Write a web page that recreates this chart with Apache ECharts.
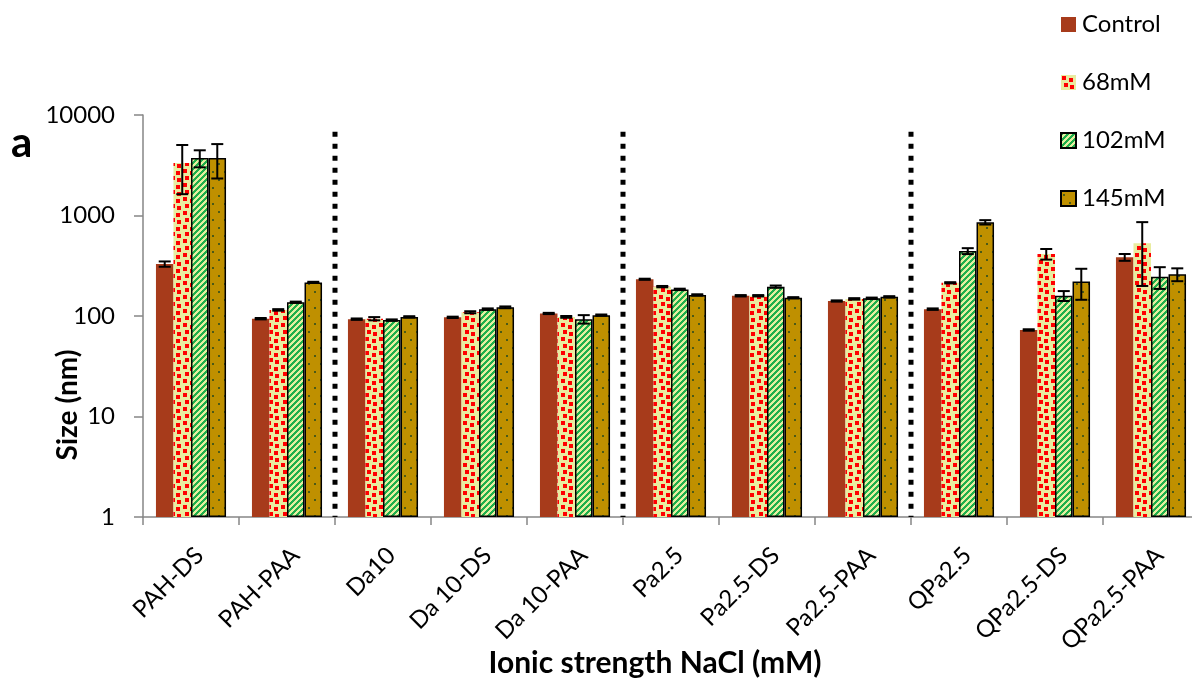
<!DOCTYPE html>
<html><head><meta charset="utf-8">
<script src="https://cdn.jsdelivr.net/npm/echarts@6/dist/echarts.min.js"></script>
<style>html,body{margin:0;padding:0;background:#fff}#c{width:1192px;height:686px}</style>
</head><body><div id="c"></div>
<script>
const categories = ['PAH-DS','PAH-PAA','Da10','Da 10-DS','Da 10-PAA','Pa2.5','Pa2.5-DS','Pa2.5-PAA','QPa2.5','QPa2.5-DS','QPa2.5-PAA'];
const seriesNames = ['Control','68mM','102mM','145mM'];
const control     = [329, 94, 93, 97, 106, 232, 159, 141, 117, 72.6, 384];
const controlErr  = [20, 1.5, 1.5, 1.5, 1.5, 3, 2.5, 2, 2, 1.2, 30];
const mM68        = [3330, 115, 94, 109, 98, 196, 159, 148, 214, 414, 529];
const mM68Err     = [1700, 2, 3.5, 2.5, 2, 3, 2.5, 2.5, 3, 50, 330];
const mM102       = [3735, 137, 91, 117, 93, 184, 196, 150, 443, 159, 246];
const mM102Err    = [720, 2, 1.5, 2, 9, 3, 5, 2.5, 30, 18, 60];
const mM145       = [3735, 216, 98, 122, 102, 162, 152, 155, 856, 220, 260];
const mM145Err    = [1400, 3, 1.5, 2.5, 1.5, 2.5, 2, 2.5, 43, 75, 38];
const yTicks = [1, 10, 100, 1000, 10000];
const separatorsAfter = [1, 4, 7];
const separatorTop = 6800;

const FONT = 'Lato';
const CAT_GAP = 0.27;

function makePattern(w, h, draw) {
  const c = document.createElement('canvas');
  c.width = w; c.height = h;
  const g = c.getContext('2d');
  draw(g, w, h);
  return c;
}
const pat68 = makePattern(14, 14, g => {
  g.fillStyle = '#E9ECA0'; g.fillRect(0, 0, 14, 14);
  g.fillStyle = '#FF0000';
  [[1,1],[8,3],[3,8],[9,10]].forEach(([x,y]) => g.fillRect(x, y, 4, 4));
});
const pat102 = makePattern(6, 6, g => {
  for (let x = 0; x < 6; x++) for (let y = 0; y < 6; y++) {
    g.fillStyle = ((x + y) % 6) < 3 ? '#1FAF4B' : '#E4EFA0';
    g.fillRect(x, y, 1, 1);
  }
});
const pat145 = makePattern(12, 16, g => {
  g.fillStyle = '#BF9000'; g.fillRect(0, 0, 12, 16);
  g.fillStyle = '#4A5A18';
  g.fillRect(2, 3, 2, 2); g.fillRect(8, 11, 2, 2);
});

const styles = [
  { color: '#A73B1B' },
  { color: { image: pat68, repeat: 'repeat' } },
  { color: { image: pat102, repeat: 'repeat' }, borderColor: '#000', borderWidth: 1.5 },
  { color: { image: pat145, repeat: 'repeat' }, borderColor: '#000', borderWidth: 1.5 }
];
const values = [control, mM68, mM102, mM145];
const errs = [controlErr, mM68Err, mM102Err, mM145Err];

const series = [];
values.forEach((vals, k) => {
  series.push({
    type: 'bar', name: seriesNames[k], data: vals,
    barGap: '0%', barCategoryGap: (CAT_GAP * 100) + '%',
    itemStyle: styles[k], z: 2
  });
});
values.forEach((vals, k) => {
  series.push({
    type: 'custom', name: seriesNames[k] + ' error', silent: true, z: 5,
    data: vals.map((v, i) => [i, v - errs[k][i], v + errs[k][i]]),
    encode: { x: 0, y: [1, 2] },
    renderItem: (params, api) => {
      const i = api.value(0);
      const lo = api.coord([i, api.value(1)]);
      const hi = api.coord([i, api.value(2)]);
      const band = api.size([1, 0])[0];
      const bw = band * (1 - CAT_GAP) / 4;
      const x = lo[0] + (k - 1.5) * bw;
      const cap = 6;
      const st = { stroke: '#000', lineWidth: 2 };
      return { type: 'group', children: [
        { type: 'line', shape: { x1: x, y1: lo[1], x2: x, y2: hi[1] }, style: st },
        { type: 'line', shape: { x1: x - cap, y1: lo[1], x2: x + cap, y2: lo[1] }, style: st },
        { type: 'line', shape: { x1: x - cap, y1: hi[1], x2: x + cap, y2: hi[1] }, style: st }
      ]};
    }
  });
});
series.push({
  type: 'custom', name: 'separators', silent: true, z: 6,
  data: separatorsAfter.map(i => [i, 1, separatorTop]),
  encode: { x: 0, y: [1, 2] },
  renderItem: (params, api) => {
    const b = api.coord([api.value(0), api.value(1)]);
    const t = api.coord([api.value(0), api.value(2)]);
    const band = api.size([1, 0])[0];
    const x = Math.round(b[0] + band / 2);
    return { type: 'line', shape: { x1: x, y1: t[1], x2: x, y2: b[1] },
      style: { stroke: '#000', lineWidth: 5, lineDash: [5, 7], lineCap: 'butt' } };
  }
});

const chart = echarts.init(document.getElementById('c'), null, { renderer: 'canvas' });
chart.setOption({
  animation: false,
  backgroundColor: '#fff',
  textStyle: { fontFamily: FONT },
  grid: { left: 143, right: -7, top: 115, bottom: 169, containLabel: false, outerBoundsMode: 'none' },
  legend: {
    data: seriesNames, orient: 'vertical', left: 1055, top: 7,
    icon: 'rect', itemWidth: 15, itemHeight: 15, itemGap: 33,
    textStyle: { fontFamily: FONT, fontSize: 24, color: '#000', lineHeight: 25, padding: [0, 0, 0, 1] }
  },
  xAxis: {
    type: 'category', data: categories,
    axisLine: { lineStyle: { color: '#868686', width: 1.5 } },
    axisTick: { show: true, length: 8, lineStyle: { color: '#868686', width: 1.5 } },
    axisLabel: { interval: 0, rotate: 45, verticalAlign: 'top', margin: 26,
      fontFamily: FONT, fontSize: 24, color: '#000' },
    splitLine: { show: false }
  },
  yAxis: {
    type: 'log', logBase: 10, min: 1, max: 10000,
    axisLine: { show: true, lineStyle: { color: '#868686', width: 1.5 } },
    axisTick: { show: true, length: 9, lineStyle: { color: '#868686', width: 1.5 } },
    axisLabel: { margin: 28, fontFamily: FONT, fontSize: 24, color: '#000',
      formatter: v => yTicks.includes(Math.round(v)) ? String(Math.round(v)) : '' },
    splitLine: { show: false },
    minorTick: { show: false }
  },
  graphic: [
    { type: 'text', left: 11, top: 122, style: { text: 'a', font: 'bold 42px Lato', fill: '#000' } },
    { type: 'text', x: 68, y: 405, rotation: Math.PI / 2,
      style: { text: 'Size (nm)', font: 'bold 28px Lato', fill: '#000', align: 'center', verticalAlign: 'middle' } },
    { type: 'text', x: 655, y: 663,
      style: { text: 'Ionic strength NaCl (mM)', font: 'bold 30px Lato', fill: '#000', align: 'center', verticalAlign: 'middle' } }
  ],
  series: series
});
</script></body></html>
